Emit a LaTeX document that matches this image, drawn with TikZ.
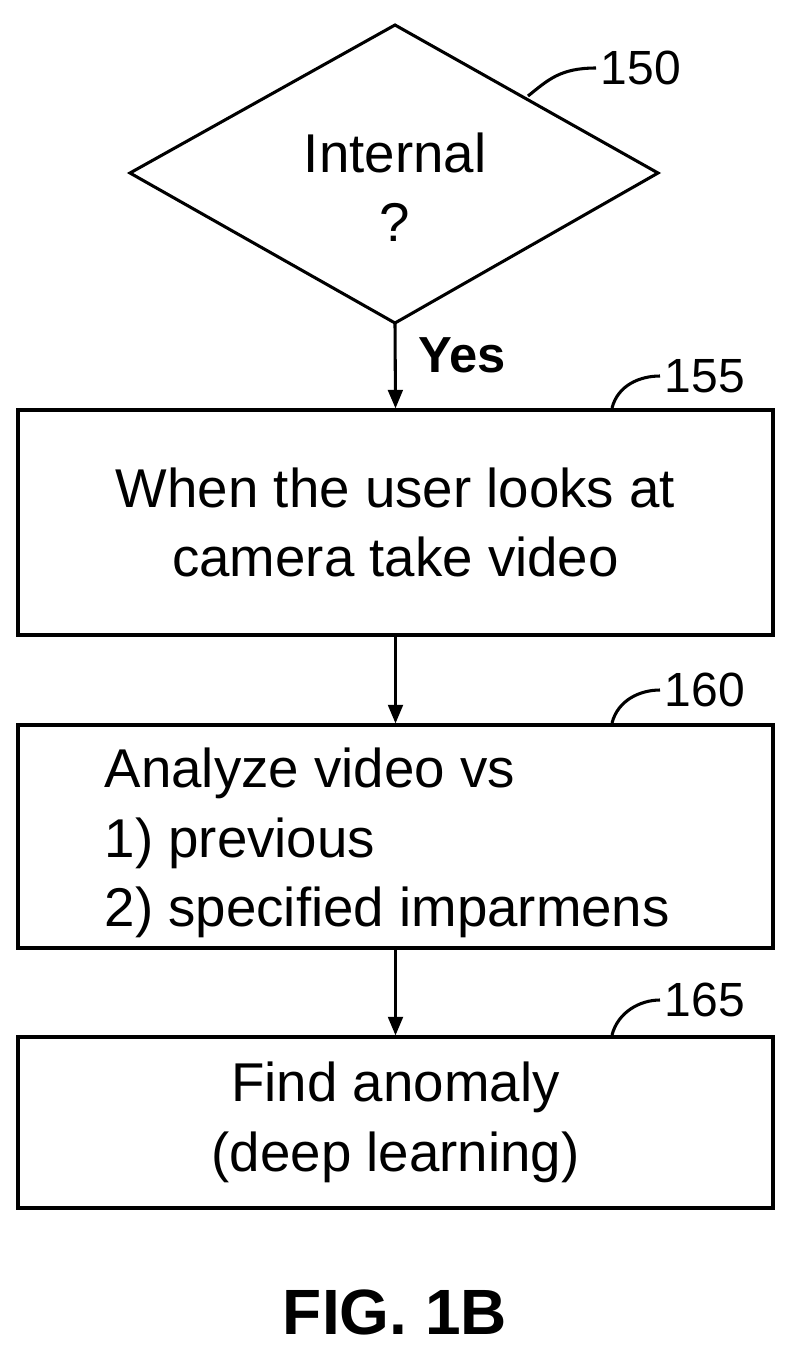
\documentclass[tikz,border=0pt]{standalone}
\usepackage{fontspec}
\setmainfont{Liberation Sans}
\usetikzlibrary{arrows.meta}
\begin{document}
\begin{tikzpicture}[x=0.75pt,y=-0.75pt,
  ln/.style={line width=2.3pt},
  box/.style={ln,draw},
  arr/.style={ln,-{Triangle[length=14pt,width=11pt]}},
  txt/.style={font=\fontsize{41}{52}\selectfont,align=center},
  lbl/.style={font=\fontsize{36}{40}\selectfont,anchor=west}]
\useasboundingbox (0,0) rectangle (788,1361);
\coordinate (dT) at (395,25); \coordinate (dR) at (658,173);
\coordinate (dB) at (395,323); \coordinate (dL) at (130,173);
\draw[ln] (dT)--(dR)--(dB)--(dL)--cycle;
\node[txt] (d) at (395,187) {Internal\\?};
\node[box,minimum width=755*0.75pt,minimum height=225*0.75pt] (b155) at (395.5,522.5) {};
\node[txt] at (b155) {When the user looks at\\camera take video};
\node[box,minimum width=755*0.75pt,minimum height=223*0.75pt] (b160) at (395.5,836.5) {};
\node[txt,align=left,anchor=west] at (100,843) {Analyze video vs\\1) previous\\2) specified imparmens};
\node[box,minimum width=755*0.75pt,minimum height=171*0.75pt] (b165) at (395.5,1122.5) {};
\node[txt] at (b165) {Find anomaly\\(deep learning)};
\draw[arr] (dB) -- (b155.north);
\node[font=\bfseries\fontsize{38}{40}\selectfont] (yes) at (462,355) {Yes};
\draw[arr] (b155.south) -- (b160.north);
\draw[arr] (b160.south) -- (b165.north);
% labels
\node[lbl] (l150) at (596,68) {150};
\coordinate (c150) at (528,96);
\draw[ln] (c150) .. controls (548,80) and (560,68) .. (l150.west);
\node[lbl] (l155) at (660,376) {155};
\coordinate (c155) at (612,408);
\draw[ln] (c155) .. controls (618,385) and (640,376) .. (l155.west);
\node[lbl] (l160) at (660,690) {160};
\coordinate (c160) at (612,723);
\draw[ln] (c160) .. controls (618,700) and (640,690) .. (l160.west);
\node[lbl] (l165) at (660,1000) {165};
\coordinate (c165) at (612,1035);
\draw[ln] (c165) .. controls (618,1012) and (640,1000) .. (l165.west);
\node[font=\bfseries\fontsize{48}{50}\selectfont] (fig) at (395,1312) {FIG. 1B};
\end{tikzpicture}
\end{document}
